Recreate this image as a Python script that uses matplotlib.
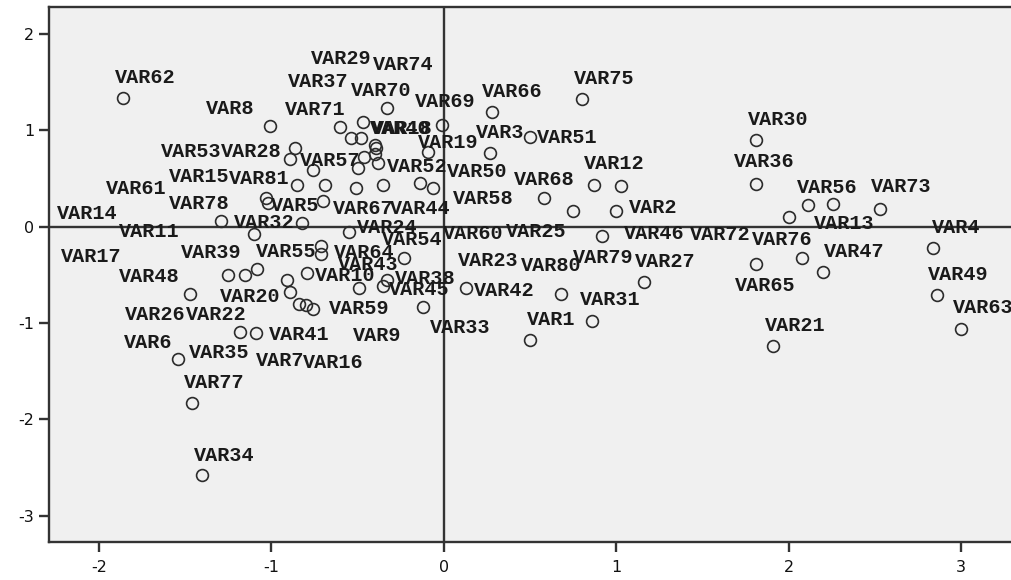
import matplotlib
matplotlib.use("Agg")
import matplotlib.pyplot as plt

# object points (dimension 1 vs dimension 2)
names = ["VAR62", "VAR8", "VAR71", "VAR37", "VAR29", "VAR74", "VAR70", "VAR40", "VAR18",
         "VAR69", "VAR19", "VAR57", "VAR52", "VAR50", "VAR28", "VAR53", "VAR81", "VAR15",
         "VAR5", "VAR78", "VAR61", "VAR14", "VAR11", "VAR32", "VAR17", "VAR39", "VAR55",
         "VAR48", "VAR20", "VAR26", "VAR22", "VAR41", "VAR6", "VAR35", "VAR7", "VAR16",
         "VAR10", "VAR59", "VAR64", "VAR43", "VAR24", "VAR54", "VAR38", "VAR45", "VAR33",
         "VAR77", "VAR34", "VAR67", "VAR44", "VAR9", "VAR58", "VAR60", "VAR23",
         "VAR42", "VAR68", "VAR25", "VAR2", "VAR46", "VAR79", "VAR80", "VAR31", "VAR1",
         "VAR12", "VAR66", "VAR75", "VAR51", "VAR3", "VAR30", "VAR36", "VAR56", "VAR13",
         "VAR73", "VAR72", "VAR76", "VAR65", "VAR47", "VAR27", "VAR4", "VAR49", "VAR63",
         "VAR21"]
dim1 = [-1.86, -1.01, -0.60, -0.54, -0.48, -0.47, -0.33, -0.40, -0.39,
        -0.01, -0.09, -0.76, -0.38, -0.06, -0.86, -0.89, -0.85, -0.69,
        -1.03, -1.02, -1.29, -1.10, -0.82, -0.70, -1.25, -1.15, -1.08,
        -1.47, -0.91, -0.89, -1.18, -1.09, -1.54, -0.84, -0.80, -0.76,
        -0.79, -0.49, -0.71, -0.71, -0.55, -0.23, -0.33, -0.35, -0.12,
        -1.46, -1.40, -0.51, -0.35, -0.50, -0.14, -0.46, -0.40,
        0.13, 0.58, 0.75, 1.03, 1.00, 0.92, 0.68, 0.86, 0.50,
        0.87, 0.28, 0.80, 0.50, 0.27, 1.81, 1.81, 2.11, 2.26,
        2.53, 2.00, 2.08, 1.81, 2.20, 1.16, 2.84, 2.86, 3.00,
        1.91]
dim2 = [1.34, 1.05, 1.04, 0.92, 0.92, 1.09, 1.23, 0.85, 0.82,
        1.06, 0.78, 0.59, 0.66, 0.40, 0.82, 0.70, 0.43, 0.43,
        0.30, 0.25, 0.06, -0.08, 0.04, 0.27, -0.50, -0.50, -0.44,
        -0.70, -0.55, -0.68, -1.09, -1.10, -1.37, -0.80, -0.81, -0.85,
        -0.48, -0.64, -0.20, -0.28, -0.06, -0.32, -0.55, -0.62, -0.83,
        -1.83, -2.58, 0.40, 0.43, 0.61, 0.45, 0.72, 0.76,
        -0.64, 0.30, 0.16, 0.42, 0.16, -0.10, -0.70, -0.98, -1.18,
        0.43, 1.19, 1.33, 0.93, 0.77, 0.90, 0.44, 0.23, 0.24,
        0.18, 0.10, -0.32, -0.39, -0.47, -0.57, -0.22, -0.71, -1.06,
        -1.24]

# label placement relative to each point (pixels: left edge, centre height)
label_dx = [-8, -64, -55, -63, -50, 10, -36, -5, -5,
            -27, -10, -13, 9, 14, -74, -129, -68, -156,
            5, -99, -115, -197, -183, -89, -167, -64, -2,
            -71, -67, -165, -54, 13, -54, -110, -50, -10,
            7, -30, 13, 17, 8, -22, 8, 6, 7,
            -8, -8, -23, 7, -5, 33, 79, 83,
            8, -30, -67, 8, 8, -29, -40, -12, -3,
            -10, -10, -8, 7, -14, -8, -22, -11, -20,
            -9, -99, -50, -21, 1, -9, -2, -9, -8,
            -8]
label_dy = [21, 18, 18, 57, 80, 58, 18, 17, 20,
            24, 10, 10, -3, 17, -3, 8, 7, 9,
            -7, 0, 33, 21, -8, -21, 19, 23, 18,
            18, -16, -22, 18, -1, 17, -48, -55, -53,
            -2, -20, -6, -10, 5, 19, 2, -3, -20,
            21, 20, -20, -23, -167, -15, -76, -106,
            -2, 19, -20, -21, -22, -21, 29, 22, 21,
            22, 21, 21, 0, 21, 21, 23, 18, -19,
            23, -17, 19, -21, 21, 21, 21, 21, 22,
            21]

plt.rcParams["axes.unicode_minus"] = False

fig = plt.figure(figsize=(10.11, 5.8), dpi=100)
ax = fig.add_axes([0.0488, 0.065, 0.953, 0.9224])
ax.set_facecolor("#f0f0f0")

ax.axhline(0, color="#333333", lw=1.7, zorder=1)
ax.axvline(0, color="#333333", lw=1.7, zorder=1)

ax.plot(dim1, dim2, "o", ms=8.5, mfc="none", mec="#2b2b2b", mew=1.2, zorder=3)

for n, x, y, dx, dy in zip(names, dim1, dim2, label_dx, label_dy):
    ax.annotate(n, (x, y), xytext=(dx, dy - 6), textcoords="offset pixels",
                ha="left", va="baseline", fontsize=14.5, fontweight="bold",
                family="Liberation Mono", color="#1a1a1a", zorder=4)

ax.set_xlim(-2.287, 3.30)
ax.set_ylim(-3.277, 2.278)
ax.set_xticks([-2, -1, 0, 1, 2, 3])
ax.set_yticks([-3, -2, -1, 0, 1, 2])
for s in ax.spines.values():
    s.set_linewidth(1.7)
    s.set_color("#333333")
ax.tick_params(direction="out", length=7, width=1.7, color="#333333",
               labelsize=11.5, labelcolor="#111111")
ax.tick_params(axis="x", pad=6)
ax.tick_params(axis="y", pad=4)

fig.savefig("out.png", dpi=100)
